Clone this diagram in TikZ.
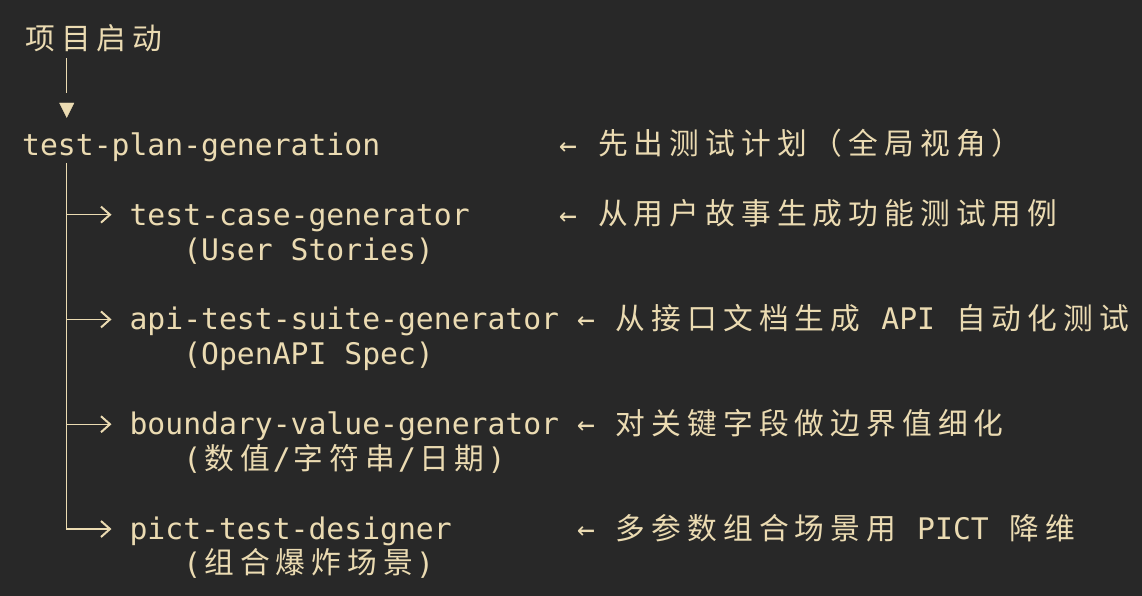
\documentclass[tikz,border=0pt]{standalone}
\usepackage{fontspec}
\usepackage{tikz}
\usetikzlibrary{arrows.meta,calc}
\newfontfamily\mono{DejaVu Sans Mono}
\newfontfamily\cjk{Noto Sans CJK SC}
\definecolor{bg}{HTML}{282828}
\definecolor{fg}{HTML}{EBDBB2}
% every wide character takes two columns
\def\zhstop{\zhstop}
\newcommand\zh[1]{\zhloop#1\zhstop}
\def\zhloop#1{\ifx#1\zhstop\else\makebox[35.8pt][c]{\raisebox{0.5pt}{\cjk#1}}\expandafter\zhloop\fi}

\begin{document}
\begin{tikzpicture}[x=17.9pt,y=-34.93pt,
    item/.style={anchor=west,inner sep=0pt,text=fg,text height=21pt,text depth=0pt,
        font=\mono\fontsize{29.73pt}{35pt}\selectfont},
    wire/.style={draw=fg,line width=1.2pt},
    branch/.style={wire,-{Straight Barb[length=9pt,width=16pt,line width=2pt]},shorten >=17.9pt}]
    \fill[bg] (-22pt,40pt) rectangle (1120pt,-556pt);
    \useasboundingbox (-22pt,40pt) rectangle (1120pt,-556pt);
    \coordinate (spine) at (2.5,0);
    % column, row
    \node[item] (start) at (0,0) {\zh{项目启动}};
    \node[item] (plan) at (0,3) {test-plan-generation};
    \node[item] (plannote) at (30,3) {← \zh{先出测试计划（全局视角）}};
    \node[item] (case) at (6,5) {test-case-generator};
    \node[item] (casenote) at (30,5) {← \zh{从用户故事生成功能测试用例}};
    \node[item] (casesrc) at (9,6) {(User Stories)};
    \node[item] (api) at (6,8) {api-test-suite-generator};
    \node[item] (apinote) at (31,8) {← \zh{从接口文档生成} API \zh{自动化测试}};
    \node[item] (apisrc) at (9,9) {(OpenAPI Spec)};
    \node[item] (bound) at (6,11) {boundary-value-generator};
    \node[item] (boundnote) at (31,11) {← \zh{对关键字段做边界值细化}};
    \node[item] (boundsrc) at (9,12) {(\zh{数值}/\zh{字符串}/\zh{日期})};
    \node[item] (pict) at (6,14) {pict-test-designer};
    \node[item] (pictnote) at (31,14) {← \zh{多参数组合场景用} PICT \zh{降维}};
    \node[item] (pictsrc) at (9,15) {(\zh{组合爆炸场景})};
    % start to plan
    \draw[wire,shorten <=7.5pt,shorten >=41.3pt] (start.south -| spine) -- (plan.north -| spine);
    \draw[fg,line width=0.4pt,-{Triangle[length=15pt,width=15pt]}] ($(plan.north -| spine)+(0pt,31.3pt)$) -- ++(0pt,-15pt);
    % plan to the generators
    \draw[branch,shorten <=7.5pt] (plan.south -| spine) |- (pict.west);
    \foreach \n in {case,api,bound}
        \draw[branch] (\n.west -| spine) -- (\n.west);
\end{tikzpicture}
\end{document}
